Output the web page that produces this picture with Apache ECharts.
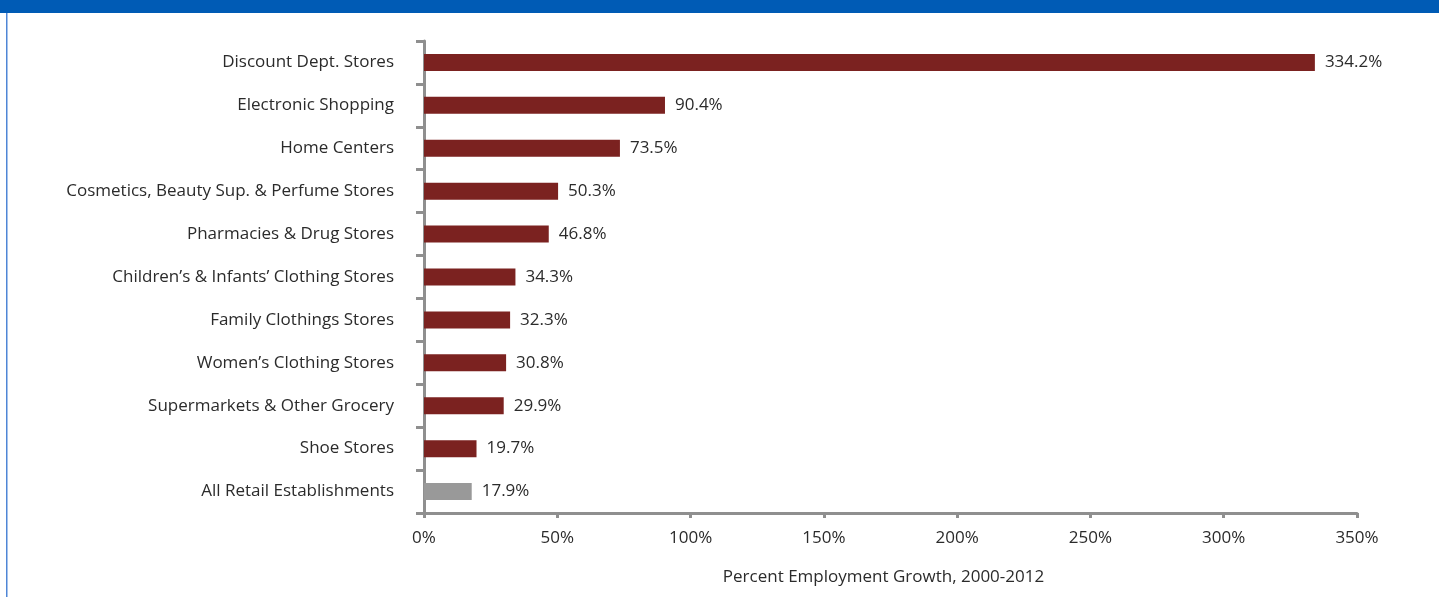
<!DOCTYPE html>
<html>
<head>
<meta charset="utf-8">
<script src="https://cdn.jsdelivr.net/npm/echarts@6/dist/echarts.min.js"></script>
<style>
  html, body { margin: 0; padding: 0; background: #ffffff; }
  #chart { width: 1439px; height: 597px; }
</style>
</head>
<body>
<div id="chart"></div>
<script>
// Store categories, listed top to bottom
const categories = [
  'Discount Dept. Stores',
  'Electronic Shopping',
  'Home Centers',
  'Cosmetics, Beauty Sup. & Perfume Stores',
  'Pharmacies & Drug Stores',
  'Children\u2019s & Infants\u2019 Clothing Stores',
  'Family Clothings Stores',
  'Women\u2019s Clothing Stores',
  'Supermarkets & Other Grocery',
  'Shoe Stores',
  'All Retail Establishments'
];

// Percent employment growth, 2000-2012
const growth = [334.2, 90.4, 73.5, 50.3, 46.8, 34.3, 32.3, 30.8, 29.9, 19.7, 17.9];

// The benchmark row is drawn in gray
const benchmark = 'All Retail Establishments';

const axisName = 'Percent Employment Growth, 2000-2012';

const barColor = '#7b2220';
const benchColor = '#999999';
const axisColor = '#8f8f8f';
const textColor = '#2b2b2b';
const fontFamily = '"Open Sans", "Noto Sans", sans-serif';
const fontSize = 17;

const chart = echarts.init(document.getElementById('chart'), null, { renderer: 'canvas' });

chart.setOption({
  animation: false,
  backgroundColor: '#ffffff',
  graphic: [
    // Blue header band and left frame rule
    { type: 'rect', shape: { x: 0, y: 0, width: 1439, height: 13 }, style: { fill: '#005bb5' }, silent: true },
    { type: 'rect', shape: { x: 6, y: 13, width: 1.5, height: 584 }, style: { fill: '#4f86d6' }, silent: true }
  ],
  grid: { left: 424, right: 82, top: 41, bottom: 84, containLabel: false },
  xAxis: {
    type: 'value',
    min: 0,
    max: 350,
    interval: 50,
    name: axisName,
    nameLocation: 'middle',
    nameGap: 56,
    nameTextStyle: { color: textColor, fontSize: fontSize, fontFamily: fontFamily, padding: [0, 14, 0, 0] },
    axisLine: { show: true, lineStyle: { color: axisColor, width: 3 } },
    axisTick: { show: true, length: 5, lineStyle: { color: axisColor, width: 3 } },
    axisLabel: {
      color: textColor, fontSize: fontSize, fontFamily: fontFamily, margin: 17,
      formatter: v => v + '%'
    },
    splitLine: { show: false }
  },
  yAxis: {
    type: 'category',
    data: categories,
    inverse: true,
    boundaryGap: true,
    axisLine: { show: true, lineStyle: { color: axisColor, width: 3 } },
    axisTick: { show: true, length: 8, inside: false, lineStyle: { color: axisColor, width: 3 } },
    axisLabel: { color: textColor, fontSize: fontSize, fontFamily: fontFamily, margin: 30 },
    splitLine: { show: false }
  },
  series: [{
    type: 'bar',
    data: growth,
    barWidth: 17,
    itemStyle: {
      color: p => (categories[p.dataIndex] === benchmark ? benchColor : barColor)
    },
    label: {
      show: true,
      position: 'right',
      distance: 10,
      color: textColor,
      fontSize: fontSize,
      fontFamily: fontFamily,
      formatter: p => p.value.toFixed(1) + '%'
    }
  }]
});
</script>
</body>
</html>
